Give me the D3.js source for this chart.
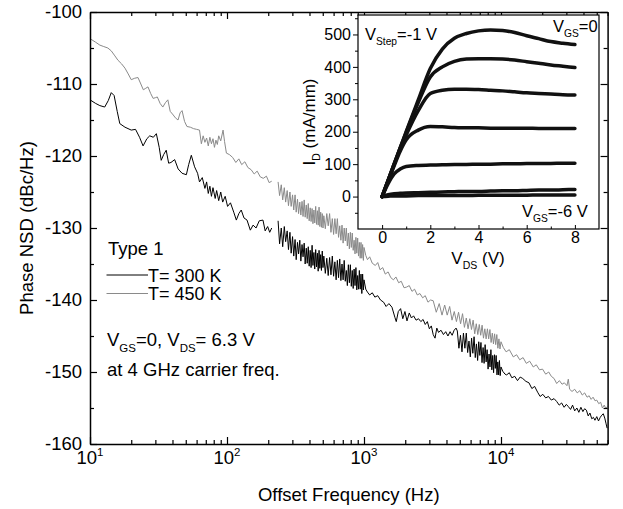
<!DOCTYPE html>
<html>
<head>
<meta charset="utf-8">
<script src="https://cdn.jsdelivr.net/npm/d3@7"></script>
<style>
  body { margin: 0; background: #fff; }
  svg { display: block; font-family: "Liberation Sans", Arial, sans-serif; }
</style>
</head>
<body>
<div id="chart"></div>
<script>
// Phase NSD, [offset frequency (Hz), dBc/Hz]
// T = 300 K
const blackLow = [[10,-112.2],[11,-112.7],[11.8,-113.0],[12.8,-113.2],[13.6,-112.3],[14.3,-111.2],[15,-111.6],[15.8,-113.8],[16.5,-115.5],[18,-116.0],[20,-116.4],[21.5,-116.3],[23,-117.4],[24.4,-118.6],[26,-117.6],[27.3,-117.2],[29,-117.4],[30.5,-116.9],[32,-118.8],[33.1,-120.6],[34.5,-119.8],[36,-119.2],[37.5,-121.0],[39,-120.9],[41.5,-120.5],[44,-121.8],[47,-122.4],[50.5,-122.6],[52.5,-121.2],[54.9,-119.9],[58,-121.5],[61,-122.4],[63,-123.6],[66,-123.0],[69,-124.5],[71,-123.6],[73,-125.2],[75,-124.2],[77,-125.6],[79,-124.4],[82,-125.9],[84,-124.8],[87,-126.2],[90,-125.0],[93,-126.4],[97,-125.6],[101,-127.0],[106,-126.5],[112,-127.8],[117,-128.9],[122,-128.0],[127,-127.5],[133,-128.6],[140,-128.9],[148,-130.3],[155,-129.6],[163,-130.0],[172,-129.0],[183,-128.9],[190,-130.4],[198,-129.8],[205,-130.6],[212,-130.0]];
const blackSweep1 = [[236,-129.0],[242,-132.2],[249,-130.0],[255,-132.6],[262,-129.8],[268,-131.9],[275,-130.4],[281,-133.0],[288,-130.6],[294,-133.5],[301,-131.2],[307,-133.9],[314,-131.6],[320,-134.4],[327,-132.0],[333,-133.6],[340,-131.7],[346,-134.6],[353,-132.3],[359,-134.0],[366,-132.1],[372,-135.0],[379,-132.8],[385,-134.9],[392,-132.6],[398,-135.3],[405,-133.1],[411,-135.5],[418,-132.4],[424,-135.2],[431,-133.4],[437,-135.7],[444,-133.0],[450,-135.4],[457,-133.5],[463,-136.0],[470,-133.1],[476,-135.6],[483,-133.7],[489,-135.9],[496,-133.2],[502,-135.5],[509,-133.9],[522,-136.3],[535,-134.2],[548,-136.6],[561,-134.1],[574,-136.5],[587,-133.9],[600,-136.7],[613,-134.7],[626,-137.2],[639,-134.5],[652,-136.9],[665,-134.3],[678,-137.3],[691,-135.0],[704,-137.2],[717,-134.5],[730,-137.4],[743,-135.9],[756,-138.0],[769,-135.1],[782,-137.6],[795,-135.1],[808,-138.1],[821,-135.9],[834,-138.4],[847,-135.7],[860,-138.0],[873,-135.5],[886,-138.6],[899,-136.6],[912,-138.5],[925,-135.9],[938,-138.5],[951,-136.4],[964,-139.1],[977,-136.4],[990,-138.6],[1000,-137.2]];
const blackMid = [[1030,-138.5],[1060,-138.9],[1100,-139.3],[1150,-139.0],[1200,-139.6],[1260,-139.4],[1320,-140.0],[1390,-140.3],[1450,-140.9],[1520,-140.5],[1600,-141.0],[1680,-142.4],[1720,-143.0],[1780,-141.6],[1850,-141.2],[1920,-142.6],[1990,-141.6],[2060,-142.9],[2140,-141.8],[2220,-142.5],[2300,-142.2],[2400,-142.8],[2500,-142.6],[2600,-143.0],[2700,-142.7],[2800,-143.4],[2900,-143.0],[3000,-144.0],[3100,-143.6],[3200,-144.8],[3300,-145.3],[3400,-143.9],[3500,-144.5],[3650,-144.2],[3800,-144.8],[3950,-144.4],[4100,-145.0],[4250,-144.4],[4400,-144.9],[4550,-144.2],[4700,-143.9]];
const blackSweep2 = [[4800,-144.3],[4930,-146.7],[5060,-144.9],[5190,-147.2],[5320,-144.6],[5450,-146.7],[5580,-144.6],[5710,-147.3],[5840,-145.7],[5970,-147.9],[6100,-145.3],[6230,-147.4],[6360,-145.1],[6490,-148.0],[6620,-146.1],[6750,-148.4],[6880,-145.8],[7010,-147.7],[7140,-145.9],[7270,-148.7],[7400,-146.6],[7530,-148.8],[7660,-146.2],[7790,-148.6],[7920,-146.9],[8050,-149.6],[8180,-147.5],[8310,-149.3],[8440,-146.9],[8570,-149.7],[8700,-147.7],[8830,-150.1],[8960,-147.6],[9090,-149.5],[9220,-147.7],[9350,-150.4],[9480,-148.6],[9610,-150.4],[9740,-148.4],[9870,-150.5],[10000,-149.3]];
const blackHigh = [[10300,-149.9],[10700,-150.3],[11000,-150.4],[11500,-150.1],[12000,-150.8],[12600,-150.6],[13200,-151.2],[13800,-150.7],[14400,-150.9],[15200,-151.3],[16000,-151.5],[16800,-152.3],[17600,-152.0],[18500,-152.8],[19300,-153.4],[20200,-153.1],[21200,-153.6],[22200,-153.4],[23300,-153.9],[24400,-153.7],[25500,-154.1],[26600,-154.6],[27700,-154.3],[28900,-154.9],[30000,-154.5],[31000,-154.8],[32200,-155.2],[33300,-154.6],[34500,-155.4],[35800,-155.0],[37000,-155.6],[38300,-154.9],[39600,-155.5],[40800,-155.1],[42000,-155.3],[43300,-156.1],[44600,-155.7],[46000,-156.5],[47300,-156.3],[48500,-156.7],[50000,-156.2],[51500,-156.8],[53000,-156.3],[54400,-156.0],[55800,-155.8],[57200,-156.4],[58500,-157.2],[59500,-157.8]];

// T = 450 K
const grayLow = [[10,-103.7],[11,-104.2],[11.8,-104.6],[12.6,-104.8],[13.5,-105.0],[14.3,-105.4],[15.2,-106.1],[16,-106.7],[17,-107.2],[18,-107.8],[19,-108.6],[20,-109.4],[21.2,-109.2],[22.4,-109.1],[23.5,-110.0],[24.5,-110.8],[25.5,-110.6],[26.5,-110.4],[27.7,-111.3],[28.9,-112.0],[30,-111.9],[31,-111.8],[32.5,-112.7],[34,-113.2],[35.5,-112.6],[37,-112.2],[38.5,-113.8],[40.5,-114.3],[42,-114.7],[43.9,-115.0],[45.5,-114.0],[47,-113.7],[49,-115.2],[51,-115.9],[54,-116.0],[57,-116.2],[60,-116.3],[63,-116.4],[65,-118.3],[67,-117.2],[69,-118.1],[71,-117.5],[73,-118.6],[75,-117.4],[77,-118.3],[79,-117.6],[81,-118.8],[83,-117.8],[85,-118.4],[87,-117.2],[90,-117.9],[93.6,-116.4],[96,-118.0],[99,-119.6],[104,-119.8],[110,-120.2],[116,-120.9],[122,-120.4],[128,-121.2],[135,-120.8],[142,-121.6],[150,-121.9],[158,-122.5],[166,-122.1],[175,-122.9],[184,-123.1],[194,-122.8],[203,-123.7],[212,-123.5]];
const graySweep1 = [[236,-123.6],[242,-125.5],[249,-124.0],[255,-126.1],[262,-124.4],[268,-126.4],[275,-124.8],[281,-126.9],[288,-125.0],[294,-127.0],[301,-125.4],[307,-127.5],[314,-125.4],[320,-127.8],[327,-126.0],[333,-128.0],[340,-126.4],[346,-128.2],[353,-126.3],[359,-128.4],[366,-126.1],[372,-128.5],[379,-126.8],[385,-128.7],[392,-126.6],[398,-129.0],[405,-127.2],[411,-129.1],[418,-127.3],[424,-129.4],[431,-127.5],[437,-129.3],[444,-127.0],[450,-129.5],[457,-127.6],[463,-129.6],[470,-127.1],[476,-129.8],[483,-127.8],[489,-129.9],[496,-128.0],[502,-130.0],[509,-128.3],[522,-130.1],[535,-128.0],[548,-129.7],[561,-128.0],[574,-130.6],[587,-128.7],[600,-130.9],[613,-128.7],[626,-130.8],[639,-128.7],[652,-131.3],[665,-129.7],[678,-131.7],[691,-129.6],[704,-132.1],[717,-130.0],[730,-131.8],[743,-130.0],[756,-132.5],[769,-130.7],[782,-132.9],[795,-130.6],[808,-132.7],[821,-130.7],[834,-133.1],[847,-131.7],[860,-133.6],[873,-131.3],[886,-133.5],[899,-131.4],[912,-133.9],[925,-132.0],[938,-134.2],[951,-132.0],[964,-134.2],[977,-132.3],[990,-134.5],[1000,-132.7]];
const grayMid = [[1030,-133.8],[1060,-134.4],[1100,-134.0],[1150,-134.9],[1210,-135.2],[1260,-134.8],[1310,-135.8],[1370,-135.5],[1430,-136.4],[1500,-136.1],[1570,-136.9],[1640,-137.2],[1710,-136.8],[1790,-137.6],[1870,-137.4],[1960,-138.3],[2050,-138.2],[2140,-138.0],[2240,-138.8],[2340,-138.5],[2450,-139.3],[2560,-139.1],[2680,-139.7],[2800,-139.4],[2930,-140.3],[3060,-140.0]];
const graySweep2 = [[3200,-140.1],[3370,-141.7],[3540,-140.5],[3710,-142.1],[3880,-140.7],[4050,-142.1],[4220,-140.9],[4390,-142.8],[4560,-141.6],[4730,-143.0],[4900,-141.7],[5070,-143.3],[5240,-141.9],[5410,-143.8],[5580,-142.5],[5750,-144.0],[5920,-142.6],[6090,-144.1],[6260,-142.8],[6430,-144.7],[6600,-143.3],[6770,-144.8],[6940,-143.4],[7110,-144.9],[7280,-143.5],[7450,-145.3],[7620,-144.0],[7790,-145.4],[7960,-144.0],[8130,-145.4],[8300,-144.1],[8470,-145.9],[8640,-144.6],[8810,-146.1],[8980,-144.7],[9150,-146.2],[9320,-144.8],[9490,-146.7],[9660,-145.4],[9830,-146.8],[10000,-145.8]];
const grayHigh = [[10400,-146.6],[10900,-147.2],[11500,-146.9],[12300,-147.9],[13000,-147.6],[13700,-148.3],[14500,-148.0],[15300,-148.8],[16200,-148.5],[17200,-149.3],[18100,-149.0],[19100,-149.7],[20100,-149.6],[21200,-150.3],[22300,-150.0],[23300,-150.6],[24400,-150.9],[25500,-151.6],[26700,-151.2],[27900,-151.7],[29000,-151.5],[30300,-151.9],[31000,-151.0],[31700,-152.4],[33000,-152.7],[34500,-152.4],[36000,-152.9],[37600,-152.6],[39200,-153.2],[40800,-152.9],[42500,-153.5],[44000,-153.3],[45500,-153.8],[47000,-153.5],[48600,-154.0],[50000,-153.9],[51700,-154.4],[53400,-154.2],[55000,-155.0],[56700,-154.6],[58300,-155.1],[59700,-154.8]];

// inset: I-V curves, I_D (mA/mm) vs V_DS (V)
const vds = [0,0.25,0.5,0.75,1,1.5,2,2.5,3,3.5,4,4.5,5,5.5,6,6.5,7,7.5,8];
const idVgs0 = [0,50,100,150,200,298,395,455,488,503,511,514,512,506,496,487,478,473,469];
const idVgsM1 = [0,50,100,150,198,290,369,400,417,424,425,425,424,421,416,411,406,402,398];
const idVgsM2 = [0,50,100,148,190,265,318,328,331,331,330,328,326,323,320,318,316,314,313];
const idVgsM3 = [0,48,95,140,175,205,216,215,213,212,212,211,211,211,211,210,210,210,210];
const idVgsM4 = [0,40,70,85,93,96,97,98,99,99,100,100,101,101,102,102,102,103,103];
const idVgsM5 = [0,6,9,10,11,12,13,14,15,16,16,17,18,18,19,20,20,21,22];
const idVgsM6 = [0,1,2,2,2,3,3,3,3,3,4,4,4,4,4,5,5,5,5];

const yTicks = [-160,-150,-140,-130,-120,-110,-100];
const xDecades = [10,100,1000,10000];

const W = 623, H = 509;
const svg = d3.select('#chart').append('svg').attr('width', W).attr('height', H);

const x = d3.scaleLog().domain([10, 6e4]).range([90, 607.6]);
const y = d3.scaleLinear().domain([-160, -100]).range([444, 12]);

// little helper for text with sub/superscripts
function rich(parent, parts, size) {
    const t = parent.append('text').attr('font-size', size);
    let shift = 0;
    parts.forEach(([s, k]) => {
        const target = k === 'sub' ? size * 0.3 : (k === 'sup' ? -size * 0.45 : 0);
        t.append('tspan')
            .attr('dy', target - shift)
            .attr('font-size', k ? size * 0.62 : size)
            .text(s);
        shift = target;
    });
    return t;
}

// noise curves
const line = d3.line().x(d => x(d[0])).y(d => y(d[1]));
const curves = [
    { data: grayLow, color: '#8a8a8a' },
    { data: graySweep1.concat(grayMid, graySweep2, grayHigh), color: '#8a8a8a' },
    { data: blackLow, color: '#000' },
    { data: blackSweep1.concat(blackMid, blackSweep2, blackHigh), color: '#000' }
];
svg.append('g').selectAll('path')
    .data(curves)
    .enter()
    .append('path')
    .attr('d', d => line(d.data))
    .attr('fill', 'none')
    .attr('stroke', d => d.color)
    .attr('stroke-width', 1)
    .attr('stroke-linejoin', 'round');

// axes (ticks point inwards on all four sides)
const isDecade = v => Math.abs(Math.log10(v) - Math.round(Math.log10(v))) < 1e-9;
const xMinor = x.ticks().filter(v => !isDecade(v) && v <= 6e4);
const yMinor = [-155, -145, -135, -125, -115, -105];

function styleAxis(g, width) {
    g.selectAll('.tick line').attr('stroke', '#000').attr('stroke-width', 1.2);
    g.select('.domain').attr('stroke', '#000').attr('stroke-width', width);
    g.selectAll('text').attr('font-size', 18.5).attr('fill', '#000').attr('font-family', null);
}

const axes = svg.append('g');
axes.append('g').attr('transform', 'translate(0,444)')
    .call(d3.axisBottom(x).tickValues(xDecades).tickSize(-7).tickSizeOuter(0).tickFormat(''))
    .call(g => styleAxis(g, 1.5));
axes.append('g').attr('transform', 'translate(0,444)')
    .call(d3.axisBottom(x).tickValues(xMinor).tickSize(-4).tickSizeOuter(0).tickFormat(''))
    .call(g => { g.select('.domain').remove(); styleAxis(g, 1.5); });
axes.append('g').attr('transform', 'translate(0,12)')
    .call(d3.axisTop(x).tickValues(xDecades).tickSize(-7).tickSizeOuter(0).tickFormat(''))
    .call(g => styleAxis(g, 1.5));
axes.append('g').attr('transform', 'translate(0,12)')
    .call(d3.axisTop(x).tickValues(xMinor).tickSize(-4).tickSizeOuter(0).tickFormat(''))
    .call(g => { g.select('.domain').remove(); styleAxis(g, 1.5); });
axes.append('g').attr('transform', 'translate(90,0)')
    .call(d3.axisLeft(y).tickValues(yTicks).tickSize(-7).tickSizeOuter(0).tickPadding(8).tickFormat(d => String(d)))
    .call(g => styleAxis(g, 1.5));
axes.append('g').attr('transform', 'translate(90,0)')
    .call(d3.axisLeft(y).tickValues(yMinor).tickSize(-4).tickSizeOuter(0).tickFormat(''))
    .call(g => { g.select('.domain').remove(); styleAxis(g, 1.5); });
axes.append('g').attr('transform', 'translate(607.6,0)')
    .call(d3.axisRight(y).tickValues(yTicks).tickSize(-7).tickSizeOuter(0).tickFormat(''))
    .call(g => styleAxis(g, 1.5));
axes.append('g').attr('transform', 'translate(607.6,0)')
    .call(d3.axisRight(y).tickValues(yMinor).tickSize(-4).tickSizeOuter(0).tickFormat(''))
    .call(g => { g.select('.domain').remove(); styleAxis(g, 1.5); });

// x tick labels as powers of ten
xDecades.forEach(v => {
    const t = svg.append('text')
        .attr('x', x(v))
        .attr('y', 464)
        .attr('text-anchor', 'middle')
        .attr('font-size', 18.5);
    t.append('tspan').text('10');
    t.append('tspan').attr('dy', -8).attr('font-size', 11.5).text(Math.round(Math.log10(v)));
});

// axis titles
svg.append('text')
    .attr('x', (x.range()[0] + x.range()[1]) / 2)
    .attr('y', 501)
    .attr('text-anchor', 'middle')
    .attr('font-size', 18.5)
    .text('Offset Frequency (Hz)');
svg.append('text')
    .attr('transform', 'translate(33,228) rotate(-90)')
    .attr('text-anchor', 'middle')
    .attr('font-size', 18.5)
    .text('Phase NSD (dBc/Hz)');

// legend
svg.append('text').attr('x', 108).attr('y', 255).attr('font-size', 18.5).text('Type 1');
const legend = [
    { label: 'T= 300 K', color: '#000', y: 275 },
    { label: 'T= 450 K', color: '#8a8a8a', y: 293.5 }
];
legend.forEach(d => {
    svg.append('line')
        .attr('x1', 106.5).attr('x2', 148)
        .attr('y1', d.y).attr('y2', d.y)
        .attr('stroke', d.color)
        .attr('stroke-width', 1);
    svg.append('text')
        .attr('x', 148)
        .attr('y', d.y + 6.5)
        .attr('font-size', 18)
        .text(d.label);
});
rich(svg, [['V'], ['GS', 'sub'], ['=0, V'], ['DS', 'sub'], ['= 6.3 V']], 18.5)
    .attr('x', 107).attr('y', 346);
svg.append('text').attr('x', 107).attr('y', 376).attr('font-size', 18.5).text('at 4 GHz carrier freq.');

// ---- inset ----
const inset = svg.append('g');
const ix = d3.scaleLinear().domain([-1, 9]).range([358, 599]);
const iy = d3.scaleLinear().domain([-100, 560]).range([229, 15]);

inset.append('rect')
    .attr('x', 358).attr('y', 15)
    .attr('width', 599 - 358).attr('height', 229 - 15)
    .attr('fill', '#fff')
    .attr('stroke', '#000')
    .attr('stroke-width', 1.2);

const ivCurves = [idVgs0, idVgsM1, idVgsM2, idVgsM3, idVgsM4, idVgsM5, idVgsM6];
const ivLine = d3.line()
    .x((d, i) => ix(vds[i]))
    .y(d => iy(d))
    .curve(d3.curveMonotoneX);
inset.append('g').selectAll('path')
    .data(ivCurves)
    .enter()
    .append('path')
    .attr('d', d => ivLine(d))
    .attr('fill', 'none')
    .attr('stroke', '#111')
    .attr('stroke-width', 3.5)
    .attr('stroke-linecap', 'round')
    .attr('stroke-linejoin', 'round');

function styleInset(g) {
    g.select('.domain').remove();
    g.selectAll('.tick line').attr('stroke', '#000').attr('stroke-width', 1);
    g.selectAll('text').attr('font-size', 16).attr('fill', '#000').attr('font-family', null);
}
inset.append('g').attr('transform', 'translate(358,0)')
    .call(d3.axisLeft(iy).tickValues([0, 100, 200, 300, 400, 500]).tickSize(5).tickPadding(2))
    .call(styleInset);
inset.append('g').attr('transform', 'translate(358,0)')
    .call(d3.axisLeft(iy).tickValues([-50, 50, 150, 250, 350, 450, 550]).tickSize(3).tickFormat(''))
    .call(styleInset);
inset.append('g').attr('transform', 'translate(0,229)')
    .call(d3.axisBottom(ix).tickValues([0, 2, 4, 6, 8]).tickSize(-4).tickPadding(3))
    .call(styleInset);
inset.append('g').attr('transform', 'translate(0,229)')
    .call(d3.axisBottom(ix).tickValues([1, 3, 5, 7]).tickSize(-2.5).tickFormat(''))
    .call(styleInset);

rich(inset, [['V'], ['DS', 'sub'], [' (V)']], 17)
    .attr('x', 478).attr('y', 264).attr('text-anchor', 'middle');
rich(inset, [['I'], ['D', 'sub'], [' (mA/mm)']], 17)
    .attr('transform', 'translate(315,122) rotate(-90)')
    .attr('text-anchor', 'middle');
rich(inset, [['V'], ['Step', 'sub'], ['=-1 V']], 16.5).attr('x', 365).attr('y', 40);
rich(inset, [['V'], ['GS', 'sub'], ['=0']], 16.5).attr('x', 553).attr('y', 32);
rich(inset, [['V'], ['GS', 'sub'], ['=-6 V']], 16.5).attr('x', 522).attr('y', 217);
</script>
</body>
</html>
